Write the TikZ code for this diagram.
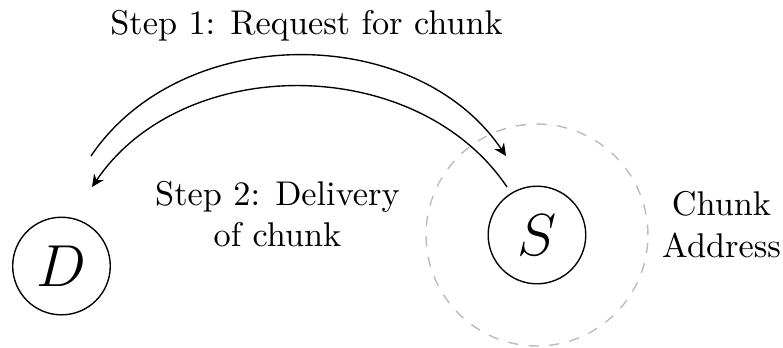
\documentclass[tikz,border=0pt]{standalone}
\usepackage{amsmath}
\usetikzlibrary{arrows.meta}
\definecolor{rangegray}{HTML}{BBBBBB}

\begin{document}
\begin{tikzpicture}[auto, >={Stealth[length=3.6pt, width=3.4pt, inset=1.2pt]}, thin]

\tikzstyle{every node}=[draw=none, text=black]
\tikzstyle{peer}=[circle, draw, minimum size=1cm, inner sep=0pt, font=\LARGE]
\tikzstyle{addrrange}=[circle, dashed, draw=rangegray, minimum size=2.274cm]

\useasboundingbox (-0.63,-0.83) rectangle (7.393,2.726);

\draw    (0,   0)    node [peer] (D) {$D$}
         (4.872, 0.318)  node [peer] (S) {$S$};
\node [addrrange] (addr) at (S) {};

\coordinate (req1) at (0.302, 1.127);
\coordinate (req2) at (4.555, 1.127);
\coordinate (del1) at (4.565, 0.810);
\coordinate (del2) at (0.313, 0.810);

\draw [->] (req1) to [bend left=56] (req2);
\draw [->] (del1) to [bend right=56] (del2);

\node (step1) at (2.511, 2.465) {Step 1: Request for chunk};
\node [align=center] (step2) at (2.213, 0.528) {Step 2: Delivery\\of chunk};
\node [align=center] (chunk) at (6.763, 0.425) {Chunk\\Address};

\end{tikzpicture}
\end{document}
